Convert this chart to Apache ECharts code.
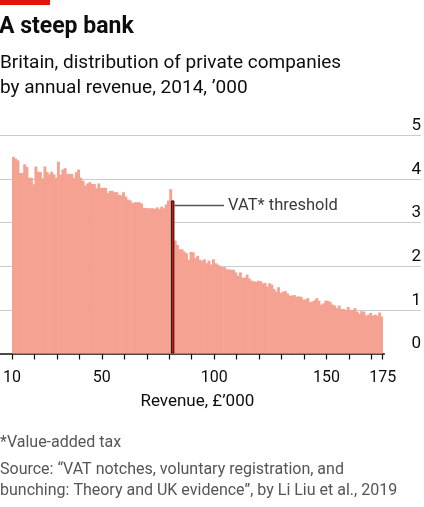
<!DOCTYPE html>
<html lang="en">
<head>
<meta charset="UTF-8">
<title>A steep bank</title>
<script src="https://cdn.jsdelivr.net/npm/echarts@6/dist/echarts.min.js"></script>
<style>
    html, body { margin: 0; padding: 0; background: #fff; }
    #main { width: 424px; height: 507px; }
</style>
</head>
<body>
<div id="main"></div>
<script>
// revenue bins of £1k, from 10 to 175
var binStart = 10;
var binEnd = 175;
var vatThreshold = 81;
// number of companies per bin, '000
var companies = [
    4.51, 4.47, 4.43, 4.14, 4.14, 4.34, 4.28, 4.03, 4.03, 3.88,
    4.29, 4.17, 4.16, 4.02, 4.29, 4.16, 4.11, 4.17, 4.11, 4.03,
    4.40, 4.10, 4.22, 4.25, 4.12, 4.12, 4.12, 4.02, 4.16, 4.22,
    4.03, 3.96, 3.85, 3.90, 3.93, 3.89, 3.89, 3.79, 3.90, 3.80,
    3.80, 3.80, 3.68, 3.73, 3.73, 3.70, 3.70, 3.64, 3.63, 3.70,
    3.60, 3.53, 3.51, 3.45, 3.47, 3.47, 3.47, 3.44, 3.34, 3.34,
    3.33, 3.33, 3.33, 3.32, 3.35, 3.31, 3.37, 3.33, 3.42, 3.51,
    3.77, 3.51, 2.59, 2.49, 2.39, 2.39, 2.34, 2.30, 2.15, 2.33,
    2.32, 2.19, 2.24, 2.15, 2.13, 2.16, 2.07, 2.13, 2.04, 2.16,
    2.07, 2.04, 2.01, 1.98, 1.98, 1.93, 1.93, 1.92, 1.92, 1.86,
    1.78, 1.86, 1.74, 1.74, 1.81, 1.72, 1.67, 1.66, 1.64, 1.67,
    1.66, 1.61, 1.62, 1.54, 1.61, 1.58, 1.48, 1.42, 1.52, 1.39,
    1.42, 1.43, 1.38, 1.33, 1.33, 1.34, 1.30, 1.31, 1.30, 1.24,
    1.24, 1.27, 1.18, 1.19, 1.22, 1.27, 1.21, 1.12, 1.15, 1.21,
    1.21, 1.18, 1.12, 1.10, 1.04, 1.10, 1.02, 1.02, 1.00, 1.07,
    1.00, 1.00, 1.04, 0.96, 0.91, 0.97, 0.96, 0.87, 0.89, 0.93,
    0.87, 0.89, 0.87, 0.94, 0.85
];
var xTickLabels = [10, 50, 100, 150, 175];
var yMax = 5;

var FONT = 'Roboto, "Noto Sans", sans-serif';
var INK = '#0d0d0d';
var BAR = '#f5a292';

// [bin start, companies]
var bins = companies.map(function (v, i) {
    return [binStart + i, v];
});
var k = vatThreshold - binStart;
var vatBar = [[vatThreshold + 0.5, companies[k]]];

var plotTop = 135.5, plotBottom = 153.5;

function renderBin(params, api) {
    var x0 = api.value(0);
    var a = api.coord([x0, api.value(1)]);
    var b = api.coord([x0 + 1, 0]);
    // a bit wider (except the last) so neighbouring bins don't leave white seams
    var extra = x0 + 1 < binEnd ? 0.7 : 0.3;
    return {
        type: 'rect',
        shape: { x: a[0], y: a[1], width: b[0] - a[0] + extra, height: b[1] - a[1] },
        style: { fill: BAR }
    };
}

var myChart = echarts.init(document.getElementById('main'));
var option = {
    animation: false,
    backgroundColor: '#fff',
    textStyle: { fontFamily: FONT },
    graphic: [
        { type: 'rect', left: 0, top: 0, shape: { width: 50, height: 5 }, style: { fill: '#e3120b' } }
    ],
    title: [
        {
            text: 'A steep bank', left: -1, top: 13, padding: 0,
            textStyle: { fontFamily: FONT, fontSize: 23, fontWeight: 'bold', color: INK, lineHeight: 28 }
        },
        {
            text: 'Britain, distribution of private companies\nby annual revenue, 2014, ’000', left: 0, top: 51, padding: 0,
            textStyle: { fontFamily: FONT, fontSize: 19, fontWeight: 'normal', color: INK, lineHeight: 24.5 }
        },
        {
            text: '*Value-added tax', left: 0, top: 432.5, padding: 0,
            textStyle: { fontFamily: FONT, fontSize: 16, fontWeight: 'normal', color: '#555', lineHeight: 21 }
        },
        {
            text: 'Source: “VAT notches, voluntary registration, and\nbunching: Theory and UK evidence”, by Li Liu et al., 2019',
            left: 0, top: 459, padding: 0,
            textStyle: { fontFamily: FONT, fontSize: 16, fontWeight: 'normal', color: '#555', lineHeight: 21 }
        }
    ],
    grid: [
        { left: 0, right: 0, top: plotTop, bottom: plotBottom },
        { left: 7.3, right: 41.3, top: plotTop, bottom: plotBottom },
        { left: 0, right: 39.7, top: plotTop, bottom: plotBottom }
    ],
    xAxis: [
        { gridIndex: 0, type: 'value', min: 0, max: 1, show: false },
        {
            gridIndex: 1, type: 'value', min: binStart, max: binEnd, interval: 10,
            axisLine: { show: false },
            axisTick: { show: true, length: 6, lineStyle: { color: INK, width: 1.2 } },
            axisLabel: {
                margin: 16, fontSize: 16, color: INK, fontFamily: FONT,
                showMinLabel: true, showMaxLabel: true,
                formatter: function (v) { return xTickLabels.indexOf(v) >= 0 ? String(v) : ''; }
            },
            splitLine: { show: false },
            name: 'Revenue, £’000', nameLocation: 'middle', nameGap: 40,
            nameTextStyle: { fontSize: 17, fontWeight: 'normal', color: INK, fontFamily: FONT }
        },
        {
            gridIndex: 2, type: 'value', min: 0, max: 1,
            axisLine: { show: true, lineStyle: { color: INK, width: 1.5 } },
            axisTick: { show: false }, axisLabel: { show: false }, splitLine: { show: false }
        },
        // twin of the bar axis, so the threshold bar gets its own width
        { gridIndex: 1, type: 'value', position: 'top', min: binStart, max: binEnd, show: false }
    ],
    yAxis: [
        {
            gridIndex: 0, type: 'value', min: 0, max: yMax, interval: 1, position: 'right',
            axisLine: { show: false }, axisTick: { show: false },
            axisLabel: {
                inside: true, margin: 0, fontSize: 17, color: INK, fontFamily: FONT,
                verticalAlign: 'bottom', padding: [0, 0, 1, 0]
            },
            splitLine: { show: true, lineStyle: { color: ['rgba(0,0,0,0)', '#cccccc', '#cccccc', '#cccccc', '#cccccc', '#cccccc'], width: 1 } }
        },
        { gridIndex: 1, type: 'value', min: 0, max: yMax, show: false },
        { gridIndex: 2, type: 'value', min: 0, max: yMax, show: false }
    ],
    series: [
        {
            name: 'companies', type: 'custom', xAxisIndex: 1, yAxisIndex: 1,
            data: bins, encode: { x: 0, y: 1 },
            renderItem: renderBin,
            silent: true, clip: false
        },
        {
            name: 'threshold', type: 'bar', xAxisIndex: 3, yAxisIndex: 1,
            barWidth: 3.4, data: vatBar, z: 5,
            itemStyle: { color: '#e3120b', borderColor: '#1a1a1a', borderWidth: 1 },
            silent: true,
            markLine: {
                silent: true, symbol: 'none', animation: false,
                lineStyle: { color: '#555', width: 1.3, type: 'solid' },
                label: {
                    show: true, position: 'end', distance: 4,
                    formatter: 'VAT* threshold', fontSize: 16.5, color: '#3a3a3a', fontFamily: FONT
                },
                emphasis: { disabled: true },
                data: [[{ coord: [vatThreshold + 1.3, 3.39] }, { coord: [104.4, 3.39] }]]
            }
        }
    ]
};
myChart.setOption(option);
</script>
</body>
</html>
